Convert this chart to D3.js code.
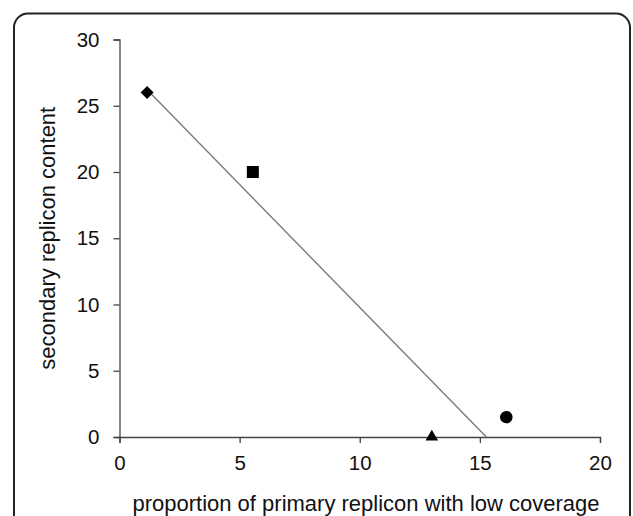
<!DOCTYPE html>
<html>
<head>
<meta charset="utf-8">
<script src="https://cdn.jsdelivr.net/npm/d3@7"></script>
<style>
  body { margin: 0; background: #fff; }
  text { font-family: "Liberation Sans", Arial, sans-serif; }
</style>
</head>
<body>
<div id="chart"></div>
<script>
// points
let coverage = [1.15, 5.55, 13.0, 16.1];
let secondary = [26, 20, 0, 1.5];
let markers = ['diamond', 'square', 'triangle', 'circle'];
// fitted trend line ends
let trendX = [1.15, 15.27];
let trendY = [26.2, 0];
let xTicks = [0, 5, 10, 15, 20];
let yTicks = [0, 5, 10, 15, 20, 25, 30];

const width = 633;
const height = 516;
const margin = {left: 119.5, right: 33, top: 39.5, bottom: 79};

const svg = d3.select('#chart').append('svg')
    .attr('width', width).attr('height', height);

// rounded frame (bottom runs off the picture)
svg.append('rect')
    .attr('x', 14).attr('y', 13.5)
    .attr('width', 616).attr('height', 540)
    .attr('rx', 14).attr('ry', 14)
    .attr('fill', 'none').attr('stroke', '#222').attr('stroke-width', 2);

const x = d3.scaleLinear().domain([0, 20]).range([margin.left, width - margin.right]);
const y = d3.scaleLinear().domain([0, 30]).range([height - margin.bottom, margin.top]);

const xAxis = svg.append('g')
    .attr('transform', `translate(0,${y(0)})`)
    .call(d3.axisBottom(x).tickValues(xTicks).tickSize(6).tickPadding(12).tickFormat(d3.format('d')));
const yAxis = svg.append('g')
    .attr('transform', `translate(${x(0)},0)`)
    .call(d3.axisLeft(y).tickValues(yTicks).tickSize(6).tickPadding(14).tickFormat(d3.format('d')));

[xAxis, yAxis].forEach(g => {
    g.select('.domain').attr('stroke', '#444').attr('stroke-width', 1.3);
    g.selectAll('.tick line').attr('stroke', '#444').attr('stroke-width', 1.3);
    g.selectAll('.tick text').attr('fill', '#111').style('font-size', '20.5px');
});

// trend line
svg.append('line')
    .attr('x1', x(trendX[0])).attr('y1', y(trendY[0]))
    .attr('x2', x(trendX[1])).attr('y2', y(trendY[1]))
    .attr('stroke', '#7a7a7a').attr('stroke-width', 1.4);

const shapes = {
    diamond: {type: d3.symbolSquare, size: 84, rot: 45},
    square: {type: d3.symbolSquare, size: 144, rot: 0},
    triangle: {type: d3.symbolTriangle, size: 68, rot: 0},
    circle: {type: d3.symbolCircle, size: 122, rot: 0}
};

svg.selectAll('path.pt').data(coverage).enter().append('path')
    .attr('class', 'pt')
    .attr('d', (d, i) => d3.symbol().type(shapes[markers[i]].type).size(shapes[markers[i]].size)())
    .attr('transform', (d, i) => `translate(${x(d)},${y(secondary[i])}) rotate(${shapes[markers[i]].rot})`)
    .attr('fill', '#000');

svg.append('text')
    .attr('x', 366).attr('y', 511)
    .attr('text-anchor', 'middle')
    .style('font-size', '22px').attr('fill', '#111')
    .text('proportion of primary replicon with low coverage');

svg.append('text')
    .attr('transform', `translate(55,${(y(0) + y(30)) / 2}) rotate(-90)`)
    .attr('text-anchor', 'middle')
    .style('font-size', '22px').attr('fill', '#111')
    .text('secondary replicon content');
</script>
</body>
</html>
